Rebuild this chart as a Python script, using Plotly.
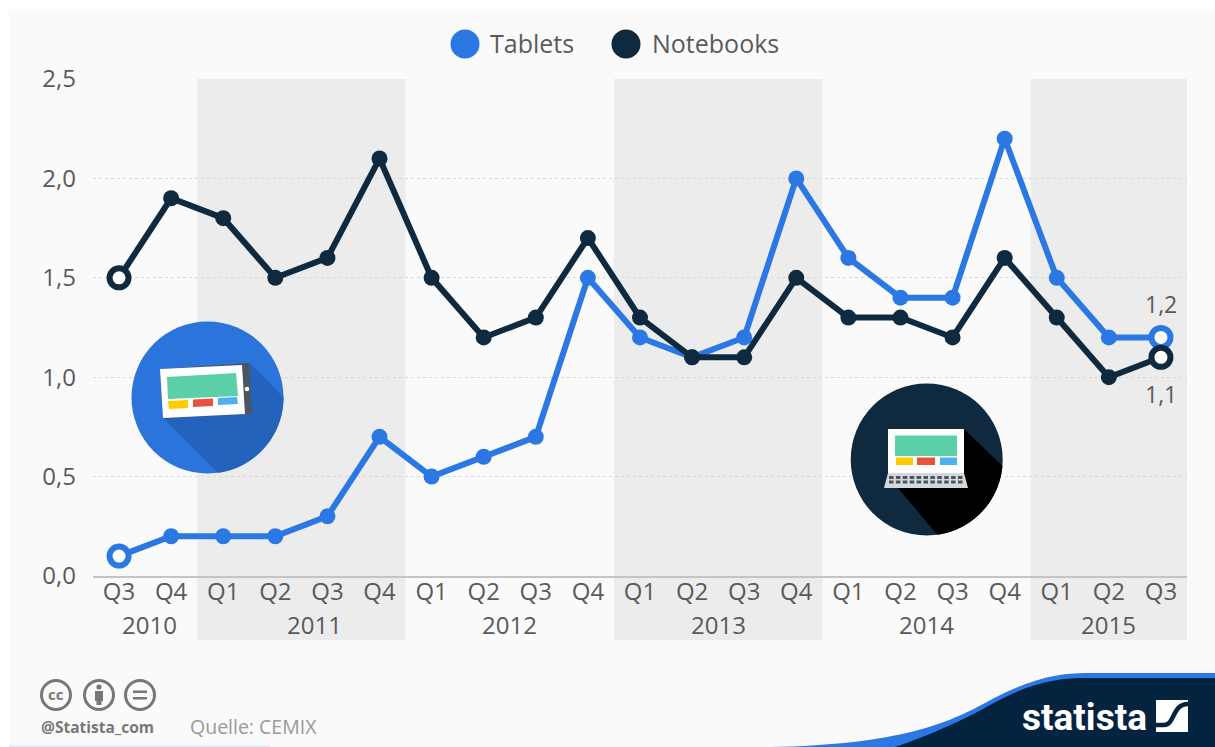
import math
import plotly.graph_objects as go

quarters = ["Q3","Q4","Q1","Q2","Q3","Q4","Q1","Q2","Q3","Q4","Q1","Q2","Q3","Q4","Q1","Q2","Q3","Q4","Q1","Q2","Q3"]
tablets = [0.1,0.2,0.2,0.2,0.3,0.7,0.5,0.6,0.7,1.5,1.2,1.1,1.2,2.0,1.6,1.4,1.4,2.2,1.5,1.2,1.2]
notebooks = [1.5,1.9,1.8,1.5,1.6,2.1,1.5,1.2,1.3,1.7,1.3,1.1,1.1,1.5,1.3,1.3,1.2,1.6,1.3,1.0,1.1]
years = ["2010","2011","2012","2013","2014","2015"]
year_pos = [0.58,3.75,7.5,11.5,15.5,19]
band_ranges = [(1.5,5.5),(9.5,13.5),(17.5,20.5)]

W, H = 1215, 747
L, R, T, B = 93, 1187, 79, 576
BLUE, DARK = "#2b78e4", "#0f2a3f"
GREY = "#5a5a5a"
FONT = "Open Sans"

def px(x): return (x - L) / (R - L)
def py(y): return (B - y) / (B - T)
def pt(x, y): return f"{px(x):.5f},{py(y):.5f}"
def poly(points):
    return "M " + " L ".join(pt(x, y) for x, y in points) + " Z"

shapes, ann = [], []
def path(d, fill, line=None, lw=0, layer="above"):
    shapes.append(dict(type="path", xref="paper", yref="paper", path=d, fillcolor=fill,
                       line=dict(color=line or "rgba(0,0,0,0)", width=lw), layer=layer))
def rect(x0, y0, x1, y1, fill, layer="above"):
    shapes.append(dict(type="rect", xref="paper", yref="paper", x0=px(x0), x1=px(x1), y0=py(y0), y1=py(y1),
                       fillcolor=fill, line=dict(width=0), layer=layer))
def circle(cx, cy, r, fill, line=None, lw=0, layer="above"):
    shapes.append(dict(type="circle", xref="paper", yref="paper", x0=px(cx-r), x1=px(cx+r), y0=py(cy-r), y1=py(cy+r),
                       fillcolor=fill, line=dict(color=line or "rgba(0,0,0,0)", width=lw), layer=layer))
def text(x, y, s, size, color, anchor="left", family=FONT):
    ann.append(dict(xref="paper", yref="paper", x=px(x), y=py(y), text=s, showarrow=False, xanchor=anchor,
                    yanchor="middle", font=dict(size=size, color=color, family=family)))
def arc(cx, cy, r, a0, a1, n=30):
    return [(cx + r*math.cos(math.radians(a0+(a1-a0)*i/n)), cy + r*math.sin(math.radians(a0+(a1-a0)*i/n))) for i in range(n+1)]

# background
rect(9, 11, W, H, "#fafafa", layer="below")
for x0, x1 in band_ranges:
    shapes.append(dict(type="rect", xref="x", yref="paper", x0=x0, x1=x1, y0=py(640), y1=1,
                       fillcolor="#ececec", line=dict(width=0), layer="below"))

# legend
circle(465, 44, 14.5, BLUE)
text(488, 43, "Tablets", 25, GREY)
circle(626, 44, 14.5, DARK)
text(650, 43, "Notebooks", 25, GREY)

# tablet icon
cx, cy, r = 207.5, 397.5, 76
circle(cx, cy, r, "#2b74dc")
path(poly([(250,363)] + arc(cx, cy, r, 0, 82) + [(163,418)]), "#2463bb")
path(poly([(160,369),(249,363),(252,414),(163,418)]), "#4b5560")
path(poly([(160,369),(242,365),(245,414),(163,418)]), "#ffffff")
path(poly([(167,377),(236,373),(238,396),(168,399)]), "#5bcfa8")
path(poly([(168,401),(188,400),(188,408),(169,409)]), "#ffcc00")
path(poly([(193,399.5),(213,398.5),(213,406),(193,407)]), "#e8533f")
path(poly([(218,398),(237,397),(238,404),(218,405)]), "#4db0ef")
circle(247, 389, 2.3, "#ffffff")

# laptop icon
cx, cy, r = 926.7, 459.5, 76
circle(cx, cy, r, "#0f2a3f")
path(poly([(964,429)] + arc(cx, cy, r, 5, 82) + [(898,488),(964,473)]), "#000000")
rect(888, 429, 964, 473, "#ffffff")
rect(895, 435.5, 957, 456, "#5bcfa8")
rect(896, 457.5, 913, 465, "#ffcc00")
rect(917, 457.5, 935, 465, "#e8533f")
rect(940, 457.5, 957, 465, "#4db0ef")
path(poly([(888,473),(964,473),(968,488),(884,488)]), "#d4d8da")
for row, y in enumerate((476, 480.5)):
    for k in range(11):
        rect(889 + k*6.9, y, 893.5 + k*6.9, y+3, "#4a5560")

# footer wave
path(f"M {pt(770,747)} C {pt(900,745)} {pt(950,722)} {pt(985,703)} C {pt(1030,678)} {pt(1060,673)} {pt(1085,673)} L {pt(1215,673)} L {pt(1215,747)} Z", BLUE)
path(f"M {pt(895,747)} C {pt(930,735)} {pt(960,722)} {pt(990,705)} C {pt(1030,682)} {pt(1060,678)} {pt(1085,678)} L {pt(1215,678)} L {pt(1215,747)} Z", "#04233f")
rect(9, 745.5, 270, 747, "#cfefff")
text(1020, 717, "<b>statista</b>", 37, "#ffffff", family="Roboto")
rect(1156, 700, 1188, 732, "#ffffff")
path(f"M {pt(1156,725)} L {pt(1164,725)} C {pt(1175,725)} {pt(1172,704)} {pt(1188,704)}", "rgba(0,0,0,0)", "#04233f", 4.5)

# licence marks
LG = "#777777"
for c in (56, 99, 140):
    circle(c, 695, 14.5, "#fafafa", LG, 3)
text(56, 694, "<b>cc</b>", 15, LG, "center")
circle(99, 687, 2.6, LG)
rect(95, 691, 103, 701, LG)
rect(96.5, 700, 101.5, 705, LG)
rect(133, 690.5, 147, 693, LG)
rect(133, 697, 147, 699.5, LG)
text(39, 727, "<b>@Statista_com</b>", 15.5, LG)
text(188, 726, "Quelle: CEMIX", 19.5, "#999999")

# axis labels
xs = list(range(len(quarters)))
for yr, p in zip(years, year_pos):
    ann.append(dict(xref="x", yref="paper", x=p, y=py(624), text=yr, showarrow=False, xanchor="center",
                    yanchor="middle", font=dict(size=24, color=GREY, family=FONT)))
ann.append(dict(xref="x", yref="y", x=xs[-1], y=tablets[-1], text=f"{tablets[-1]:.1f}".replace(".", ","), showarrow=False,
                yshift=33, font=dict(size=23, color=GREY, family=FONT)))
ann.append(dict(xref="x", yref="y", x=xs[-1], y=notebooks[-1], text=f"{notebooks[-1]:.1f}".replace(".", ","), showarrow=False,
                yshift=-37, font=dict(size=23, color=GREY, family=FONT)))

def series(name, ys, color):
    n = len(ys)
    hollow = lambda a, b: [a if i in (0, n-1) else b for i in range(n)]
    return go.Scatter(x=xs, y=ys, name=name, mode="lines+markers", cliponaxis=False, showlegend=False,
                      line=dict(color=color, width=6),
                      marker=dict(size=hollow(19, 16), opacity=1, color=hollow("#ffffff", color),
                                  line=dict(color=color, width=hollow(6, 0))))

fig = go.Figure([series("Tablets", tablets, BLUE), series("Notebooks", notebooks, DARK)])
fig.update_layout(
    width=W, height=H, autosize=False, paper_bgcolor="#ffffff", plot_bgcolor="rgba(0,0,0,0)",
    margin=dict(l=L, r=W-R, t=T, b=H-B, pad=0), separators=",.", showlegend=False,
    shapes=shapes, annotations=ann, font=dict(family=FONT, size=24, color=GREY),
    xaxis=dict(range=[-0.5, 20.5], tickmode="array", tickvals=xs, ticktext=quarters, showgrid=False, zeroline=False,
               showline=True, linecolor="#c4c4c4", linewidth=1.5, ticks="", ticklabelstandoff=-7,
               tickfont=dict(size=24, color=GREY, family=FONT)),
    yaxis=dict(range=[0, 2.5], tickmode="array", tickvals=[0, 0.5, 1, 1.5, 2, 2.5], tickformat=".1f",
               showgrid=True, gridcolor="#d8d8d8", griddash="dot", gridwidth=1, zeroline=False, showline=False,
               ticks="", ticklabelstandoff=16, tickfont=dict(size=24, color=GREY, family=FONT)),
)
fig.write_html("out.html", config=dict(displayModeBar=False),
               post_script="document.body.style.margin='0';document.body.style.overflow='hidden';")
